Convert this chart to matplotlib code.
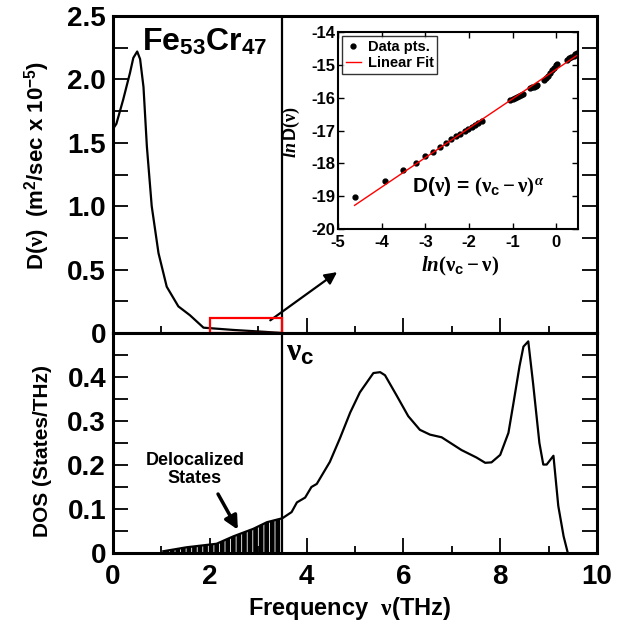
import numpy as np
import matplotlib
matplotlib.use("Agg")
import matplotlib.pyplot as plt
from matplotlib.patches import Rectangle

plt.rcParams['font.family'] = ['Liberation Sans', 'DejaVu Sans']
plt.rcParams['font.weight'] = 'bold'
plt.rcParams['axes.labelweight'] = 'bold'
plt.rcParams['axes.unicode_minus'] = False
plt.rcParams['mathtext.fontset'] = 'custom'
plt.rcParams['mathtext.rm'] = 'Liberation Serif'
plt.rcParams['mathtext.it'] = 'Liberation Serif:italic'
plt.rcParams['mathtext.bf'] = 'Liberation Sans:bold'
plt.rcParams['hatch.linewidth'] = 0.6

# diffusivity D(nu), units 1e-5 m^2/s
diff_freq = [0.0, 0.07, 0.21, 0.35, 0.42, 0.50, 0.56, 0.63, 0.70, 0.80, 0.94,
             1.11, 1.35, 1.59, 1.87, 2.49, 3.10, 3.50]
diff_vals = [1.61, 1.65, 1.84, 2.05, 2.17, 2.22, 2.16, 1.94, 1.47, 1.00, 0.63,
             0.365, 0.21, 0.14, 0.042, 0.024, 0.010, 0.0]

# vibrational density of states
dos_freq = [1.04, 1.52, 2.14, 2.49, 2.90, 3.18, 3.50, 3.69, 3.80, 3.97, 4.10,
            4.21, 4.48, 4.69, 4.90, 5.10, 5.38, 5.52, 5.62, 5.86, 6.10, 6.34,
            6.55, 6.79, 7.20, 7.51, 7.69, 7.82, 8.00, 8.17, 8.27, 8.40, 8.48,
            8.58, 8.68, 8.81, 8.89, 8.96, 9.10, 9.20, 9.31, 9.39]
dos_vals = [0.004, 0.013, 0.021, 0.038, 0.055, 0.070, 0.079, 0.093, 0.115, 0.126, 0.150,
            0.157, 0.207, 0.261, 0.319, 0.365, 0.409, 0.411, 0.404, 0.358, 0.311, 0.280,
            0.269, 0.263, 0.234, 0.217, 0.205, 0.206, 0.223, 0.273, 0.338, 0.425, 0.469,
            0.481, 0.385, 0.250, 0.201, 0.201, 0.221, 0.107, 0.038, 0.003]

nu_c = 3.5

# inset: ln D vs ln(nu_c - nu)
ln_dnu = [-4.62, -3.92, -3.51, -3.22, -3.00, -2.82, -2.66, -2.53, -2.41, -2.30,
          -2.20, -2.10, -2.01, -1.93, -1.86, -1.79, -1.71,
          -1.05, -1.00, -0.95, -0.90, -0.85, -0.80, -0.75,
          -0.59, -0.55, -0.51, -0.47, -0.44,
          -0.29, -0.24, -0.19, -0.14, -0.09, -0.04, 0.00, 0.02,
          0.25, 0.30, 0.35, 0.40, 0.44, 0.48]
ln_D = [-19.03, -18.53, -18.21, -17.99, -17.79, -17.65, -17.51, -17.39, -17.27, -17.18,
        -17.10, -17.02, -16.95, -16.88, -16.82, -16.76, -16.70,
        -16.06, -16.03, -16.00, -15.97, -15.94, -15.91, -15.88,
        -15.72, -15.69, -15.66, -15.63, -15.61,
        -15.46, -15.40, -15.33, -15.25, -15.17, -15.09, -15.02, -14.98,
        -14.84, -14.80, -14.76, -14.72, -14.68, -14.64]
fit_x = [-4.62, 0.5]
fit_y = [-19.28, -14.69]

W, H = 625, 621
fig = plt.figure(figsize=(W / 100, H / 100), dpi=100)

def fx(px):
    return px / W

def fy(py):
    return 1 - py / H

ax_top = fig.add_axes([fx(113), fy(333), fx(597) - fx(113), fy(16) - fy(333)])
ax_bot = fig.add_axes([fx(113), fy(553), fx(597) - fx(113), fy(333) - fy(553)])
ax_in = fig.add_axes([fx(338), fy(229), fx(578) - fx(338), fy(32) - fy(229)])

for a in (ax_top, ax_bot):
    for s in a.spines.values():
        s.set_linewidth(2.2)
    a.tick_params(which='both', direction='in', width=1.3, labelsize=20, pad=5)
    a.tick_params(which='major', length=11)
    a.tick_params(axis='y', which='minor', length=11)
    a.tick_params(axis='x', which='minor', length=5)

# top panel
ax_top.plot(diff_freq, diff_vals, color='black', lw=1.6)
ax_top.axvline(nu_c, color='black', lw=1.6)
ax_top.set_xlim(0, 10)
ax_top.set_ylim(0, 2.5)
ax_top.set_xticks([0, 2, 4, 6, 8, 10])
ax_top.set_xticks([1, 3, 5, 7, 9], minor=True)
ax_top.set_xticklabels([])
ax_top.set_yticks([0, 0.5, 1.0, 1.5, 2.0, 2.5])
ax_top.set_yticklabels(['0', '0.5', '1.0', '1.5', '2.0', '2.5'])
ax_top.set_yticks(np.arange(0.25, 2.5, 0.5), minor=True)
ax_top.tick_params(axis='y', which='both', right=True)
ax_top.set_ylabel(r'D($\mathrm{\nu}$)  (m$^{\mathbf{2}}$/sec x 10$^{\mathbf{-5}}$)', fontsize=16)
ax_top.yaxis.set_label_coords(-0.125, 0.53)
ax_top.text(0.19, 0.965, r'Fe$_{\mathbf{53}}$Cr$_{\mathbf{47}}$', transform=ax_top.transAxes,
            ha='center', va='top', fontsize=23)
ax_top.add_patch(Rectangle((2.0, 0), nu_c - 2.0, 0.12, fill=False, edgecolor='red',
                           lw=1.6, clip_on=False, zorder=5))
ax_top.annotate('', xy=(4.63, 0.48), xytext=(3.25, 0.10),
                arrowprops=dict(arrowstyle='-|>', color='black', lw=1.6,
                                mutation_scale=18, shrinkA=0, shrinkB=0))

# bottom panel
ax_bot.plot(dos_freq, dos_vals, color='black', lw=1.6)
f = np.array(dos_freq)
v = np.array(dos_vals)
m = f <= nu_c
ax_bot.fill_between(f[m], 0, v[m], facecolor='black', edgecolor='white',
                    hatch='|||', linewidth=0)
ax_bot.axvline(nu_c, color='black', lw=1.6)
ax_bot.set_xlim(0, 10)
ax_bot.set_ylim(0, 0.5)
ax_bot.set_xticks([0, 2, 4, 6, 8, 10])
ax_bot.set_xticks([1, 3, 5, 7, 9], minor=True)
ax_bot.set_yticks([0, 0.1, 0.2, 0.3, 0.4])
ax_bot.set_yticklabels(['0', '0.1', '0.2', '0.3', '0.4'])
ax_bot.set_yticks([0.05, 0.15, 0.25, 0.35, 0.45], minor=True)
ax_bot.tick_params(axis='y', which='both', right=True)
ax_bot.tick_params(axis='x', pad=8)
ax_bot.set_ylabel('DOS (States/THz)', fontsize=15)
ax_bot.yaxis.set_label_coords(-0.125, 0.464)
ax_bot.set_xlabel(r'Frequency  $\mathrm{\nu}$(THz)', fontsize=17)
ax_bot.xaxis.set_label_coords(0.488, -0.19)
ax_bot.text(nu_c + 0.08, 0.49, r'$\mathrm{\nu}_{\mathbf{c}}$', ha='left', va='top', fontsize=23)
ax_bot.text(1.69, 0.19, 'Delocalized\nStates', ha='center', va='center', fontsize=13,
            linespacing=1.1)
ax_bot.annotate('', xy=(2.58, 0.053), xytext=(2.17, 0.134),
                arrowprops=dict(arrowstyle='-|>', color='black', lw=2.5,
                                mutation_scale=20, shrinkA=0, shrinkB=0))

# inset
ax_in.set_zorder(10)
ax_in.set_facecolor('white')
ax_in.plot(ln_dnu, ln_D, 'o', color='black', ms=3.5, label='Data pts.')
ax_in.plot(fit_x, fit_y, color='red', lw=1.0, label='Linear Fit')
ax_in.set_xlim(-5, 0.5)
ax_in.set_ylim(-20, -14)
ax_in.set_xticks([-5, -4, -3, -2, -1, 0])
ax_in.set_yticks([-20, -19, -18, -17, -16, -15, -14])
for s in ax_in.spines.values():
    s.set_linewidth(1.5)
ax_in.tick_params(which='both', direction='in', top=True, right=True, length=4,
                  width=1.0, labelsize=12, pad=2)
ax_in.tick_params(axis='x', pad=4)
ax_in.set_ylabel(r'$ln\,\mathbf{D}(\mathrm{\nu})$', fontsize=13)
ax_in.yaxis.set_label_coords(-0.15, 0.49)
ax_in.set_xlabel(r'$ln(\mathrm{\nu}_{\mathbf{c}} - \mathrm{\nu})$', fontsize=15)
ax_in.xaxis.set_label_coords(0.51, -0.13)
ax_in.text(0.31, 0.21, r'D($\mathrm{\nu}$) = $(\mathrm{\nu}_{\mathbf{c}} - \mathrm{\nu})^{\alpha}$',
           transform=ax_in.transAxes, ha='left', va='center', fontsize=15)
leg = ax_in.legend(loc='upper left', fontsize=10.5, frameon=True, fancybox=False,
                   handlelength=1.0, handletextpad=0.5, borderpad=0.25,
                   labelspacing=0.15, borderaxespad=0.3, markerscale=1.0)
leg.get_frame().set_edgecolor('black')
leg.get_frame().set_linewidth(1.0)

fig.savefig('out.png', dpi=100)
